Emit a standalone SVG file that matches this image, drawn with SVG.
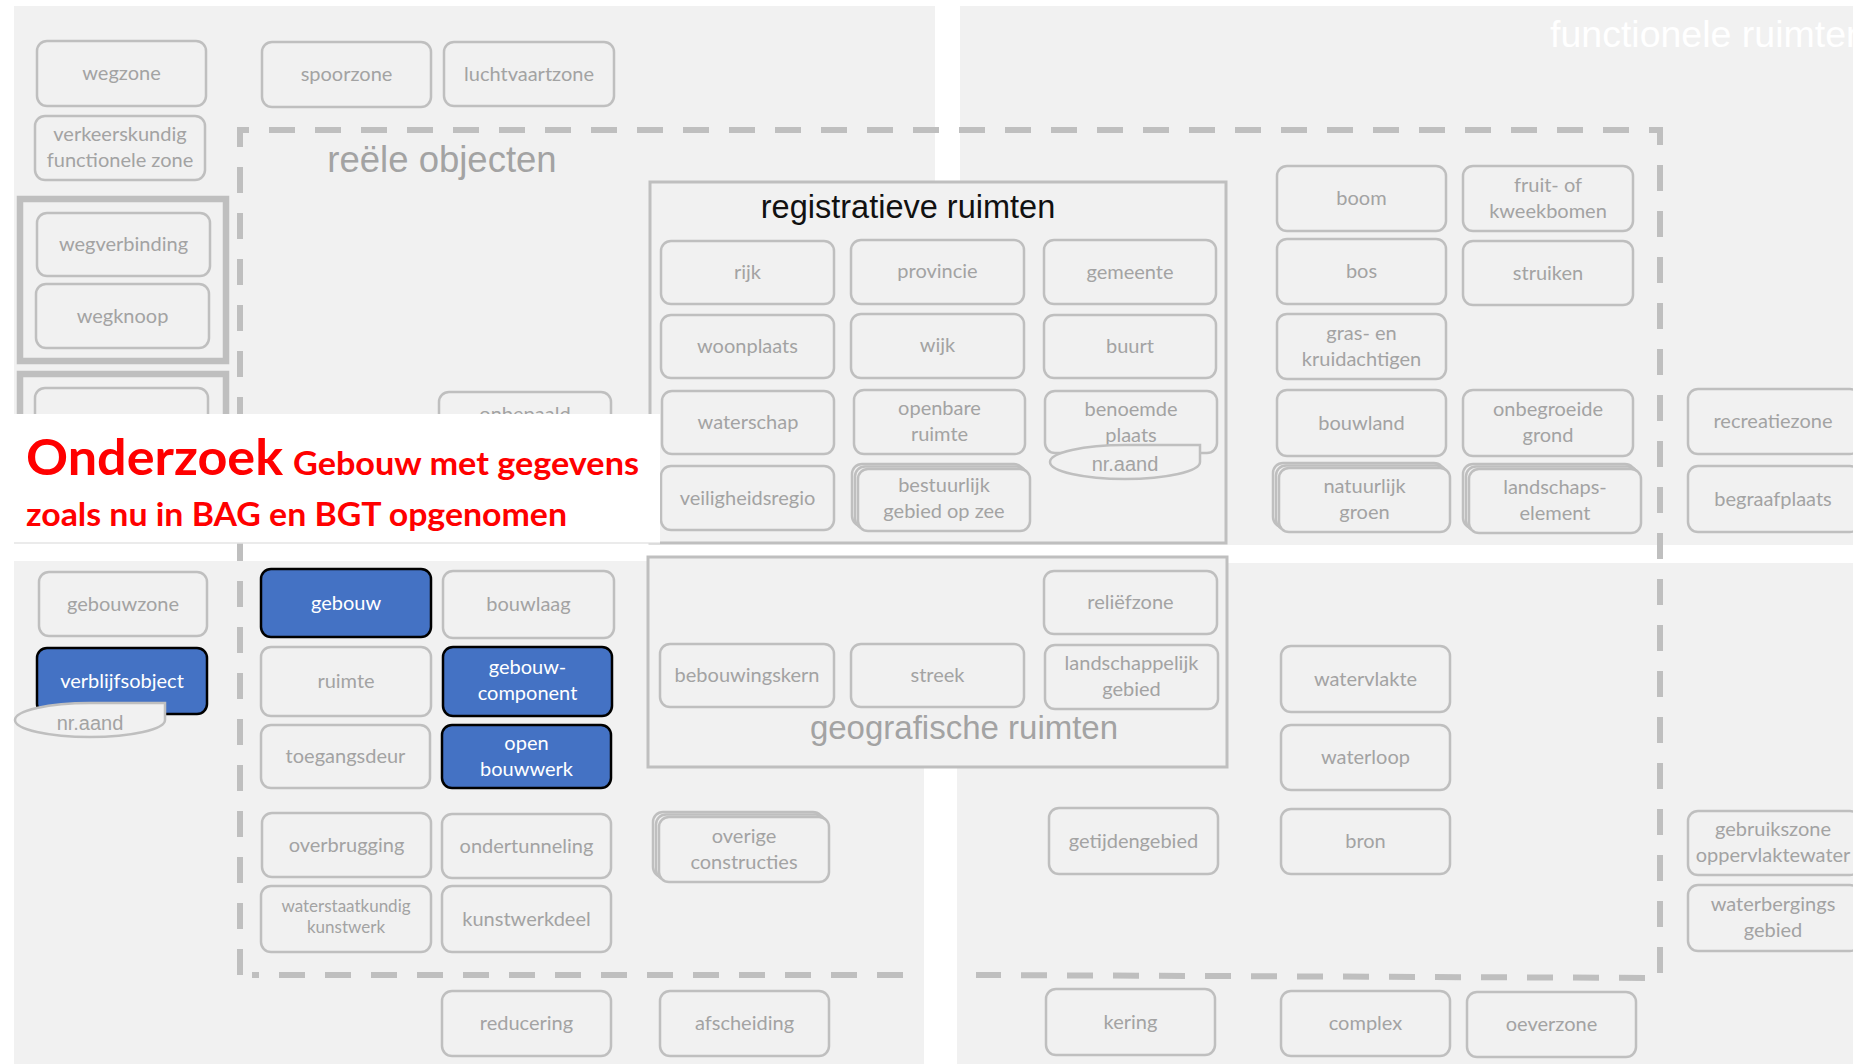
<svg xmlns="http://www.w3.org/2000/svg" width="1853" height="1064" viewBox="0 0 1853 1064">
  <style>
    .panel { fill: #f1f1f1; }
    .box { fill: #f1f1f1; stroke: #bfbfbf; stroke-width: 2.5; }
    .blue { fill: #4472c4; stroke: #000; stroke-width: 2.5; }
    .frame { fill: #f1f1f1; stroke: #bfbfbf; stroke-width: 3; }
    .grp { fill: none; stroke: #bfbfbf; stroke-width: 6.5; }
    .dash { fill: none; stroke: #bfbfbf; stroke-width: 6; stroke-dasharray: 26 20; }
    .lbl { font-family: Lato, "Liberation Sans", sans-serif; font-size: 20px; fill: #a3a3a3; text-anchor: middle; }
    .sm { font-size: 17px; }
    .wt { fill: #ffffff; }
    .tag { font-family: "Liberation Sans", Arial, sans-serif; font-size: 20px; fill: #a3a3a3; text-anchor: middle; }
    .title { font-family: "Liberation Sans", Arial, sans-serif; text-anchor: middle; }
    .red { font-family: Lato, "Liberation Sans", sans-serif; font-weight: 700; fill: #ff0000; }
  </style>

  <!-- page background and the four grey quadrants -->
  <rect x="0" y="0" width="1853" height="1064" fill="#ffffff"/>
  <rect class="panel" x="14" y="6" width="921" height="537"/>
  <rect class="panel" x="960" y="6" width="893" height="539"/>
  <rect class="panel" x="14" y="561" width="910" height="503"/>
  <rect class="panel" x="957" y="563" width="896" height="501"/>

  <text class="title" x="1550" y="47" font-size="37.5" fill="#ffffff" style="text-anchor:start">functionele ruimten</text>

  <!-- dashed frame of the real-world objects -->
  <g id="frame-reele-objecten">
    <path class="dash" d="M 240,975 V 130 H 1660 V 978 L 976,975"/>
    <path class="dash" d="M 903,975 H 252"/>
    <text class="title" x="442" y="172" font-size="36.5" fill="#a3a3a3">reële objecten</text>
  </g>

  <!-- container: registratieve ruimten -->
  <g id="registratieve-ruimten">
    <rect class="frame" x="650" y="182" width="576" height="361"/>
    <text class="title" x="908" y="218" font-size="32.5" fill="#111111">registratieve ruimten</text>
  </g>

  <!-- container: geografische ruimten -->
  <g id="geografische-ruimten">
    <rect class="frame" x="648" y="557" width="579" height="210"/>
    <text class="title" x="964" y="739" font-size="33" fill="#a3a3a3">geografische ruimten</text>
  </g>

  <!-- road group -->
  <g id="groep-weg">
    <rect class="grp" x="20" y="199" width="206" height="162"/>
  </g>
  <g id="groep-2">
    <rect class="grp" x="20" y="374" width="206" height="80"/>
    <rect class="box" x="35" y="388" width="173" height="64" rx="10"/>
  </g>

  <!-- top-left zones -->
  <g id="wegzone"><rect class="box" x="37" y="41" width="169" height="65" rx="10"/><text class="lbl" x="121.5" y="80">wegzone</text></g>
  <g id="spoorzone"><rect class="box" x="262" y="42" width="169" height="65" rx="10"/><text class="lbl" x="346.5" y="81">spoorzone</text></g>
  <g id="luchtvaartzone"><rect class="box" x="444" y="42" width="170" height="64" rx="10"/><text class="lbl" x="529" y="81">luchtvaartzone</text></g>
  <g id="verkeerskundig-functionele-zone"><rect class="box" x="35" y="116" width="170" height="64" rx="10"/><text class="lbl" x="120" y="141">verkeerskundig</text><text class="lbl" x="120" y="167">functionele zone</text></g>
  <g id="wegverbinding"><rect class="box" x="37" y="213" width="173" height="63" rx="10"/><text class="lbl" x="123.5" y="251">wegverbinding</text></g>
  <g id="wegknoop"><rect class="box" x="36" y="284" width="173" height="64" rx="10"/><text class="lbl" x="122.5" y="323">wegknoop</text></g>
  <g id="onbepaald"><rect class="box" x="439" y="392" width="172" height="90" rx="10"/><text class="lbl" x="525" y="421">onbepaald</text></g>

  <!-- registratieve ruimten -->
  <g id="rijk"><rect class="box" x="661" y="241" width="173" height="63" rx="10"/><text class="lbl" x="747.5" y="279">rijk</text></g>
  <g id="provincie"><rect class="box" x="851" y="240" width="173" height="64" rx="10"/><text class="lbl" x="937.5" y="278">provincie</text></g>
  <g id="gemeente"><rect class="box" x="1044" y="240" width="172" height="64" rx="10"/><text class="lbl" x="1130" y="279">gemeente</text></g>
  <g id="woonplaats"><rect class="box" x="661" y="315" width="173" height="63" rx="10"/><text class="lbl" x="747.5" y="353">woonplaats</text></g>
  <g id="wijk"><rect class="box" x="851" y="314" width="173" height="64" rx="10"/><text class="lbl" x="937.5" y="352">wijk</text></g>
  <g id="buurt"><rect class="box" x="1044" y="315" width="172" height="63" rx="10"/><text class="lbl" x="1130" y="353">buurt</text></g>
  <g id="waterschap"><rect class="box" x="662" y="391" width="172" height="63" rx="10"/><text class="lbl" x="748" y="429">waterschap</text></g>
  <g id="openbare-ruimte"><rect class="box" x="854" y="390" width="171" height="64" rx="10"/><text class="lbl" x="939.5" y="415">openbare</text><text class="lbl" x="939.5" y="441">ruimte</text></g>
  <g id="benoemde-plaats"><rect class="box" x="1045" y="391" width="172" height="62" rx="10"/><text class="lbl" x="1131" y="416">benoemde</text><text class="lbl" x="1131" y="442">plaats</text>
    <path class="box" d="M 1125,445 H 1200 V 462 A 75 17 0 0 1 1050,462 A 75 17 0 0 1 1125,445 Z"/>
    <text class="tag" x="1125" y="471">nr.aand</text>
  </g>
  <g id="veiligheidsregio"><rect class="box" x="661" y="466" width="173" height="64" rx="10"/><text class="lbl" x="747.5" y="505">veiligheidsregio</text></g>
  <g id="bestuurlijk-gebied-op-zee">
    <rect class="box" x="852" y="464" width="172" height="62" rx="10"/>
    <rect class="box" x="855" y="466.5" width="172" height="62" rx="10"/>
    <rect class="box" x="858" y="469" width="172" height="62" rx="10"/>
    <text class="lbl" x="944" y="492">bestuurlijk</text><text class="lbl" x="944" y="518">gebied op zee</text>
  </g>

  <!-- vegetation and terrain -->
  <g id="boom"><rect class="box" x="1277" y="166" width="169" height="65" rx="10"/><text class="lbl" x="1361.5" y="205">boom</text></g>
  <g id="fruit-of-kweekbomen"><rect class="box" x="1463" y="166" width="170" height="65" rx="10"/><text class="lbl" x="1548" y="192">fruit- of</text><text class="lbl" x="1548" y="218">kweekbomen</text></g>
  <g id="bos"><rect class="box" x="1277" y="239" width="169" height="65" rx="10"/><text class="lbl" x="1361.5" y="278">bos</text></g>
  <g id="struiken"><rect class="box" x="1463" y="241" width="170" height="64" rx="10"/><text class="lbl" x="1548" y="280">struiken</text></g>
  <g id="gras-en-kruidachtigen"><rect class="box" x="1277" y="314" width="169" height="65" rx="10"/><text class="lbl" x="1361.5" y="340">gras- en</text><text class="lbl" x="1361.5" y="366">kruidachtigen</text></g>
  <g id="bouwland"><rect class="box" x="1277" y="390" width="169" height="66" rx="10"/><text class="lbl" x="1361.5" y="430">bouwland</text></g>
  <g id="onbegroeide-grond"><rect class="box" x="1463" y="390" width="170" height="66" rx="10"/><text class="lbl" x="1548" y="416">onbegroeide</text><text class="lbl" x="1548" y="442">grond</text></g>
  <g id="natuurlijk-groen">
    <rect class="box" x="1273" y="463" width="171" height="64" rx="10"/>
    <rect class="box" x="1276" y="465.5" width="171" height="64" rx="10"/>
    <rect class="box" x="1279" y="468" width="171" height="64" rx="10"/>
    <text class="lbl" x="1364.5" y="493">natuurlijk</text><text class="lbl" x="1364.5" y="519">groen</text>
  </g>
  <g id="landschapselement">
    <rect class="box" x="1463" y="464" width="172" height="64" rx="10"/>
    <rect class="box" x="1466" y="466.5" width="172" height="64" rx="10"/>
    <rect class="box" x="1469" y="469" width="172" height="64" rx="10"/>
    <text class="lbl" x="1555" y="494">landschaps-</text><text class="lbl" x="1555" y="520">element</text>
  </g>
  <g id="recreatiezone"><rect class="box" x="1688" y="389" width="172" height="65" rx="10"/><text class="lbl" x="1773" y="428">recreatiezone</text></g>
  <g id="begraafplaats"><rect class="box" x="1688" y="466" width="172" height="66" rx="10"/><text class="lbl" x="1773" y="506">begraafplaats</text></g>

  <!-- buildings and civil works -->
  <g id="gebouwzone"><rect class="box" x="39" y="572" width="168" height="64" rx="10"/><text class="lbl" x="123" y="611">gebouwzone</text></g>
  <g id="verblijfsobject"><rect class="blue" x="37" y="648" width="170" height="66" rx="10"/><text class="lbl wt" x="122" y="688">verblijfsobject</text>
    <path class="box" d="M 90,703 H 165 V 720 A 75 17 0 0 1 15,720 A 75 17 0 0 1 90,703 Z"/>
    <text class="tag" x="90" y="730">nr.aand</text>
  </g>
  <g id="gebouw"><rect class="blue" x="261" y="569" width="170" height="68" rx="10"/><text class="lbl wt" x="346" y="610">gebouw</text></g>
  <g id="bouwlaag"><rect class="box" x="443" y="571" width="171" height="67" rx="10"/><text class="lbl" x="528.5" y="611">bouwlaag</text></g>
  <g id="ruimte"><rect class="box" x="261" y="647" width="170" height="69" rx="10"/><text class="lbl" x="346" y="688">ruimte</text></g>
  <g id="gebouwcomponent"><rect class="blue" x="443" y="647" width="169" height="69" rx="10"/><text class="lbl wt" x="527.5" y="674">gebouw-</text><text class="lbl wt" x="527.5" y="700">component</text></g>
  <g id="toegangsdeur"><rect class="box" x="261" y="725" width="169" height="63" rx="10"/><text class="lbl" x="345.5" y="763">toegangsdeur</text></g>
  <g id="open-bouwwerk"><rect class="blue" x="442" y="725" width="169" height="63" rx="10"/><text class="lbl wt" x="526.5" y="750">open</text><text class="lbl wt" x="526.5" y="776">bouwwerk</text></g>
  <g id="overbrugging"><rect class="box" x="262" y="813" width="169" height="64" rx="10"/><text class="lbl" x="346.5" y="852">overbrugging</text></g>
  <g id="ondertunneling"><rect class="box" x="442" y="814" width="169" height="64" rx="10"/><text class="lbl" x="526.5" y="853">ondertunneling</text></g>
  <g id="waterstaatkundig-kunstwerk"><rect class="box" x="261" y="886" width="170" height="66" rx="10"/><text class="lbl sm" x="346" y="912">waterstaatkundig</text><text class="lbl sm" x="346" y="933">kunstwerk</text></g>
  <g id="kunstwerkdeel"><rect class="box" x="442" y="886" width="169" height="66" rx="10"/><text class="lbl" x="526.5" y="926">kunstwerkdeel</text></g>
  <g id="reducering"><rect class="box" x="442" y="991" width="169" height="65" rx="10"/><text class="lbl" x="526.5" y="1030">reducering</text></g>
  <g id="overige-constructies">
    <rect class="box" x="653" y="812" width="170" height="65" rx="10"/>
    <rect class="box" x="656" y="814.5" width="170" height="65" rx="10"/>
    <rect class="box" x="659" y="817" width="170" height="65" rx="10"/>
    <text class="lbl" x="744" y="843">overige</text><text class="lbl" x="744" y="869">constructies</text>
  </g>
  <g id="afscheiding"><rect class="box" x="660" y="991" width="169" height="65" rx="10"/><text class="lbl" x="744.5" y="1030">afscheiding</text></g>

  <!-- geografische ruimten -->
  <g id="reliefzone"><rect class="box" x="1044" y="571" width="173" height="63" rx="10"/><text class="lbl" x="1130.5" y="609">reliëfzone</text></g>
  <g id="bebouwingskern"><rect class="box" x="660" y="644" width="174" height="63" rx="10"/><text class="lbl" x="747" y="682">bebouwingskern</text></g>
  <g id="streek"><rect class="box" x="851" y="644" width="173" height="63" rx="10"/><text class="lbl" x="937.5" y="682">streek</text></g>
  <g id="landschappelijk-gebied"><rect class="box" x="1045" y="645" width="173" height="64" rx="10"/><text class="lbl" x="1131.5" y="670">landschappelijk</text><text class="lbl" x="1131.5" y="696">gebied</text></g>
  <g id="getijdengebied"><rect class="box" x="1049" y="808" width="169" height="66" rx="10"/><text class="lbl" x="1133.5" y="848">getijdengebied</text></g>
  <g id="kering"><rect class="box" x="1046" y="989" width="169" height="66" rx="10"/><text class="lbl" x="1130.5" y="1029">kering</text></g>

  <!-- water -->
  <g id="watervlakte"><rect class="box" x="1281" y="646" width="169" height="66" rx="10"/><text class="lbl" x="1365.5" y="686">watervlakte</text></g>
  <g id="waterloop"><rect class="box" x="1281" y="725" width="169" height="65" rx="10"/><text class="lbl" x="1365.5" y="764">waterloop</text></g>
  <g id="bron"><rect class="box" x="1281" y="809" width="169" height="65" rx="10"/><text class="lbl" x="1365.5" y="848">bron</text></g>
  <g id="gebruikszone-oppervlaktewater"><rect class="box" x="1688" y="811" width="172" height="64" rx="10"/><text class="lbl" x="1773" y="836">gebruikszone</text><text class="lbl" x="1773" y="862">oppervlaktewater</text></g>
  <g id="waterbergingsgebied"><rect class="box" x="1688" y="885" width="172" height="66" rx="10"/><text class="lbl" x="1773" y="911">waterbergings</text><text class="lbl" x="1773" y="937">gebied</text></g>
  <g id="complex"><rect class="box" x="1281" y="991" width="169" height="65" rx="10"/><text class="lbl" x="1365.5" y="1030">complex</text></g>
  <g id="oeverzone"><rect class="box" x="1467" y="992" width="169" height="65" rx="10"/><text class="lbl" x="1551.5" y="1031">oeverzone</text></g>

  <!-- white banner with the research note -->
  <g id="onderzoek-banner">
    <rect x="14" y="414" width="646" height="129" fill="#ffffff"/>
    <line x1="14" y1="543" x2="660" y2="543" stroke="#e4e4e4" stroke-width="1.5"/>
    <text class="red" x="26" y="475" font-size="50" textLength="257" lengthAdjust="spacingAndGlyphs">Onderzoek</text>
    <text class="red" x="293" y="475" font-size="33" textLength="346" lengthAdjust="spacingAndGlyphs">Gebouw met gegevens</text>
    <text class="red" x="26" y="526" font-size="33" textLength="541" lengthAdjust="spacingAndGlyphs">zoals nu in BAG en BGT opgenomen</text>
  </g>

  <g id="connectors"/>
</svg>
